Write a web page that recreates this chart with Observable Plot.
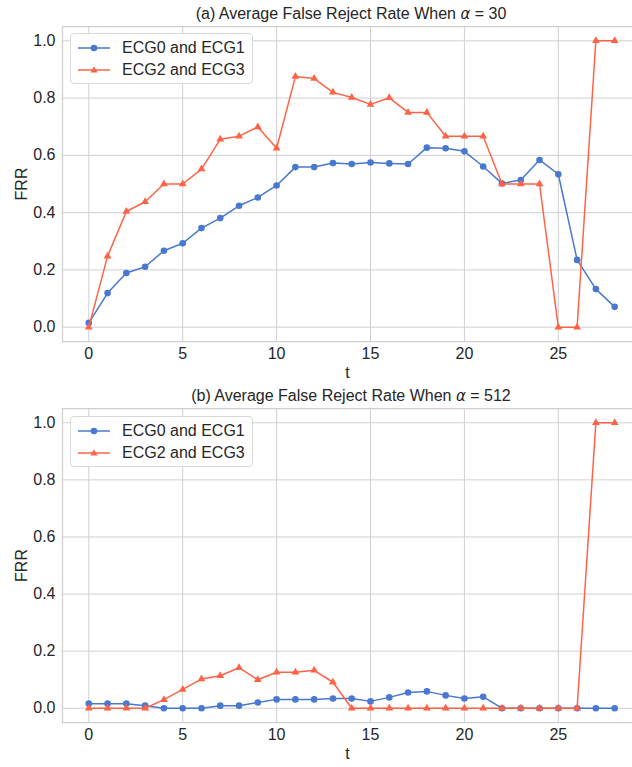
<!DOCTYPE html>
<html>
<head>
<meta charset="utf-8">
<script src="https://cdn.jsdelivr.net/npm/d3@7"></script>
<script src="https://cdn.jsdelivr.net/npm/@observablehq/plot@0.6"></script>
<style>
  body { margin: 0; background: #fff; font-family: "Liberation Sans", Arial, sans-serif; }
  #root { position: relative; width: 632px; height: 767px; overflow: hidden; background: #fff; }
  .panel { position: absolute; left: 0; }
  .title { position: absolute; left: 62px; width: 578px; text-align: center; font-size: 16px; line-height: 18px; color: #262626; white-space: nowrap; }
  .title i { font-family: "DejaVu Sans", sans-serif; font-size: 15px; }
  .legend { position: absolute; left: 70px; width: 183px; height: 51px; box-sizing: border-box; border: 1px solid #d9d9d9; border-radius: 4px; background: rgba(255,255,255,0.9); }
  .legend .row { position: absolute; left: 6px; height: 20px; display: flex; align-items: center; font-size: 16px; color: #262626; white-space: nowrap; }
  .legend .row svg { margin-right: 11px; }
</style>
</head>
<body>
<div id="root"></div>
<script>
// ---- data ----
const t = [0,1,2,3,4,5,6,7,8,9,10,11,12,13,14,15,16,17,18,19,20,21,22,23,24,25,26,27,28];
const seriesNames = ["ECG0 and ECG1", "ECG2 and ECG3"];
const a_ecg01 = [0.015,0.119,0.189,0.211,0.267,0.293,0.346,0.381,0.424,0.453,0.495,0.559,0.559,0.573,0.570,0.575,0.572,0.570,0.627,0.625,0.614,0.561,0.502,0.514,0.584,0.534,0.235,0.133,0.071];
const a_ecg23 = [0.0,0.248,0.404,0.438,0.5,0.5,0.552,0.656,0.667,0.699,0.625,0.875,0.868,0.820,0.802,0.778,0.801,0.75,0.75,0.667,0.667,0.667,0.5,0.5,0.5,0.0,0.0,1.0,1.0];
const b_ecg01 = [0.016,0.016,0.016,0.009,0.0,0.0,0.0,0.009,0.009,0.020,0.031,0.031,0.031,0.034,0.034,0.024,0.038,0.055,0.059,0.045,0.034,0.040,0.0,0.0,0.0,0.0,0.0,0.0,0.0];
const b_ecg23 = [0.0,0.0,0.0,0.0,0.030,0.066,0.102,0.114,0.142,0.100,0.126,0.126,0.133,0.091,0.0,0.0,0.0,0.0,0.0,0.0,0.0,0.0,0.0,0.0,0.0,0.0,0.0,1.0,1.0];
const xTicks = [0,5,10,15,20,25];
const yTicks = [0.0,0.2,0.4,0.6,0.8,1.0];
const titlePrefix = ["(a) Average False Reject Rate When ", "(b) Average False Reject Rate When "];
const alphaValues = ["30", "512"];

const BLUE = "#4878d0";
const RED = "#ff6347";
const GRID = "#d0d0d0";

function panel(s01, s23, height, mt, mb) {
  const d01 = t.map((x, i) => ({t: x, v: s01[i]}));
  const d23 = t.map((x, i) => ({t: x, v: s23[i]}));
  return Plot.plot({
    width: 632, height,
    marginLeft: 62, marginRight: 0, marginTop: mt, marginBottom: mb,
    style: {fontFamily: "Liberation Sans, Arial, sans-serif", fontSize: "16px", color: "#262626", background: "white"},
    x: {domain: [-1.4, 28.95], ticks: xTicks, tickSize: 0, tickPadding: 6, label: "t", labelAnchor: "center", labelArrow: "none", labelOffset: 36},
    y: {domain: [-0.05, 1.05], ticks: yTicks, tickFormat: d3.format(".1f"), tickSize: 0, tickPadding: 7, label: "FRR", labelAnchor: "center", labelArrow: "none", labelOffset: 47},
    marks: [
      Plot.gridX(xTicks, {stroke: GRID, strokeOpacity: 1, strokeWidth: 1}),
      Plot.gridY(yTicks, {stroke: GRID, strokeOpacity: 1, strokeWidth: 1}),
      Plot.frame({anchor: "left", stroke: GRID, strokeWidth: 1.25}),
      Plot.frame({anchor: "top", stroke: GRID, strokeWidth: 1.25}),
      Plot.frame({anchor: "bottom", stroke: GRID, strokeWidth: 1.25}),
      Plot.line(d01, {x: "t", y: "v", stroke: BLUE, strokeWidth: 1.5}),
      Plot.dot(d01, {x: "t", y: "v", fill: BLUE, r: 3.3, symbol: "circle"}),
      Plot.line(d23, {x: "t", y: "v", stroke: RED, strokeWidth: 1.5}),
      Plot.dot(d23, {x: "t", y: "v", fill: RED, r: 2.9, symbol: "triangle"})
    ]
  });
}

function legend(top) {
  const div = document.createElement("div");
  div.className = "legend";
  div.style.top = top + "px";
  const markers = [
    `<svg width="34" height="10"><line x1="1" y1="5" x2="33" y2="5" stroke="${BLUE}" stroke-width="1.5"/><circle cx="17" cy="5" r="3.3" fill="${BLUE}"/></svg>`,
    `<svg width="34" height="10"><line x1="1" y1="5" x2="33" y2="5" stroke="${RED}" stroke-width="1.5"/><path d="M17,1.2L20.6,7.6L13.4,7.6Z" fill="${RED}"/></svg>`
  ];
  seriesNames.forEach((name, i) => {
    const r = document.createElement("div");
    r.className = "row";
    r.style.top = (4 + i * 22) + "px";
    r.innerHTML = markers[i] + `<span>${name}</span>`;
    div.appendChild(r);
  });
  return div;
}

function title(top, i) {
  const d = document.createElement("div");
  d.className = "title";
  d.style.top = top + "px";
  d.innerHTML = `${titlePrefix[i]}<i>\u03B1</i> = ${alphaValues[i]}`;
  return d;
}

const root = document.getElementById("root");

const pa = document.createElement("div");
pa.className = "panel"; pa.style.top = "0px";
pa.appendChild(panel(a_ecg01, a_ecg23, 380, 26, 39));
root.appendChild(pa);
root.appendChild(title(5, 0));
root.appendChild(legend(33));

const pb = document.createElement("div");
pb.className = "panel"; pb.style.top = "380px";
pb.appendChild(panel(b_ecg01, b_ecg23, 387, 28, 45));
root.appendChild(pb);
root.appendChild(title(387, 1));
root.appendChild(legend(416));
</script>
</body>
</html>
